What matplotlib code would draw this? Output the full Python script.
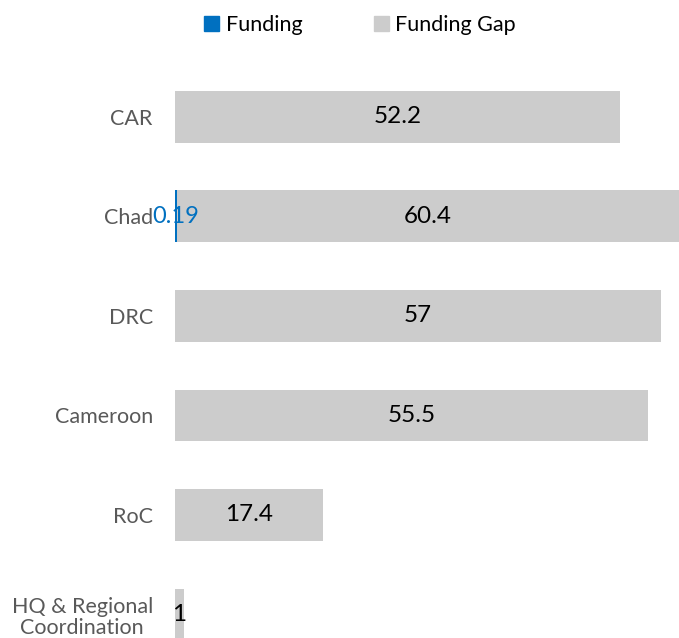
import matplotlib.pyplot as plt
import matplotlib.transforms as mtransforms
from matplotlib.patches import Patch

plt.rcParams['font.family'] = ['Lato', 'DejaVu Sans']

categories = ["CAR", "Chad", "DRC", "Cameroon", "RoC", "HQ & Regional\nCoordination"]
funding = [0, 0.19, 0, 0, 0, 0]
funding_gap = [52.2, 60.4, 57, 55.5, 17.4, 1]

BLUE = "#0070C0"
GRAY = "#CCCCCC"

fig = plt.figure(figsize=(6.79, 6.38), dpi=100)
ax = fig.add_axes([175 / 679, 0, 504 / 679, 571 / 638])

y = list(range(len(categories)))
ax.barh(y, funding, height=0.52, color=BLUE)
ax.barh(y, funding_gap, left=funding, height=0.52, color=GRAY)

xmax = 59.15
ax.set_xlim(0, xmax)
ax.set_ylim(5.236, -0.5)

for i in y:
    if funding[i] > 0:
        ax.text(funding[i] / 2, i, f"{funding[i]:g}", color=BLUE, fontsize=17,
                ha="center", va="center")
    left = funding[i]
    right = min(funding[i] + funding_gap[i], xmax)
    ax.text((left + right) / 2, i, f"{funding_gap[i]:g}", color="black", fontsize=17.5,
            ha="center", va="center")

ax.set_yticks(y)
ax.set_yticklabels(categories, fontsize=15.5, color="#595959")
labels = ax.get_yticklabels()
for lbl in labels:
    lbl.set_multialignment("center")
# nudge the two-line label up a little so it stays inside the figure
labels[-1].set_linespacing(1.1)
labels[-1].set_transform(labels[-1].get_transform() +
                         mtransforms.ScaledTranslation(0, 5 / 100, fig.dpi_scale_trans))
ax.tick_params(axis="y", length=0, pad=16)
ax.set_xticks([])
for s in ax.spines.values():
    s.set_visible(False)

handles = [Patch(color=BLUE, label="Funding"), Patch(color=GRAY, label="Funding Gap")]
fig.legend(handles=handles, loc="center", bbox_to_anchor=(360 / 679, 1 - 25 / 638),
           ncol=2, frameon=False, fontsize=15.5, handlelength=0.7, handleheight=0.7,
           handletextpad=0.3, columnspacing=3.3)

fig.savefig("out.png", dpi=100)
